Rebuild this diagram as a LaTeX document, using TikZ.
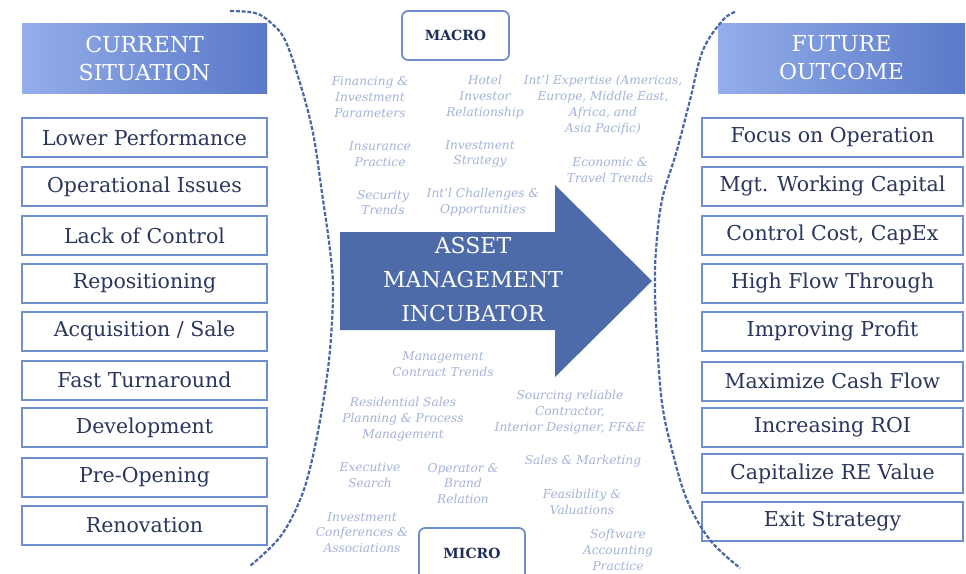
\documentclass[tikz,border=0pt]{standalone}
\usepackage{fontspec}
\setmainfont{DejaVu Serif}
\definecolor{boxline}{HTML}{6F8FCE}
\definecolor{boxtext}{HTML}{2A365E}
\definecolor{notec}{HTML}{A3B3DA}
\definecolor{hdrL}{HTML}{93AEEA}
\definecolor{hdrR}{HTML}{5A79C8}
\definecolor{arrowc}{HTML}{4D6BA8}
\definecolor{dashc}{HTML}{4A66A6}
\definecolor{navy}{HTML}{1F2D5A}
\tikzset{
  itembox/.style={draw=boxline, line width=2pt, minimum height=39pt, text=boxtext,
    font=\fontsize{20.5}{24}\selectfont, inner sep=0pt},
  leftbox/.style={itembox, minimum width=245pt},
  rightbox/.style={itembox, minimum width=261pt},
  hdr/.style={left color=hdrL, right color=hdrR, minimum height=70pt, text=white,
    align=center, font=\fontsize{22}{28}\selectfont, inner sep=0pt},
  note/.style={text=notec, align=center, font=\fontsize{12.2}{15.8}\selectfont\itshape, inner sep=0pt},
  scalebox/.style={draw=boxline, line width=1.8pt, rounded corners=6pt, fill=white},
  scaletext/.style={text=navy, font=\fontsize{14}{16}\selectfont\bfseries},
  curve/.style={draw=dashc, line width=2.2pt, dash pattern=on 4pt off 1.8pt}
}
\begin{document}
\begin{tikzpicture}[x=1pt,y=-1pt]
\useasboundingbox (0,0) rectangle (966,573);
\fill[white] (0,0) rectangle (966,573);

% headers
\node[hdr, minimum width=245pt] (curhdr) at (144.5,58) {CURRENT\\SITUATION};
\node[hdr, minimum width=247pt] (futhdr) at (841.5,58) {FUTURE\\OUTCOME};

% left boxes
\node[leftbox] (l1) at (144.5,137.5) {Lower Performance};
\node[leftbox] (l2) at (144.5,186.5) {Operational Issues};
\node[leftbox] (l3) at (144.5,235.5) {Lack of Control};
\node[leftbox] (l4) at (144.5,283) {Repositioning};
\node[leftbox] (l5) at (144.5,331) {Acquisition / Sale};
\node[leftbox] (l6) at (144.5,380) {Fast Turnaround};
\node[leftbox] (l7) at (144.5,427.5) {Development};
\node[leftbox] (l8) at (144.5,477) {Pre-Opening};
\node[leftbox] (l9) at (144.5,525.5) {Renovation};

% right boxes
\node[rightbox] (r1) at (832.5,137) {Focus on Operation};
\node[rightbox] (r2) at (832.5,186) {Mgt. Working Capital};
\node[rightbox] (r3) at (832.5,235) {Control Cost, CapEx};
\node[rightbox] (r4) at (832.5,283) {High Flow Through};
\node[rightbox] (r5) at (832.5,331) {Improving Profit};
\node[rightbox] (r6) at (832.5,381) {Maximize Cash Flow};
\node[rightbox] (r7) at (832.5,427) {Increasing ROI};
\node[rightbox] (r8) at (832.5,473.5) {Capitalize RE Value};
\node[rightbox] (r9) at (832.5,521) {Exit Strategy};

% dashed curves
\draw[curve] plot[smooth, tension=0.6] coordinates {(230,11) (255,13) (270,22) (285,40) (300,83) (313,133) (322,193) (330,250) (333,290) (330,350) (323,403) (312,460) (300,500) (280,537) (250,566)};
\draw[curve] plot[smooth, tension=0.6] coordinates {(735,12) (723,20) (703,50) (690,100) (677,150) (662,200) (656,250) (655,290) (657,340) (662,403) (672,450) (687,500) (710,540) (740,568)};

% macro / micro
\node[scalebox, scaletext, minimum width=107pt, minimum height=49pt] (macro) at (455.5,35.5) {MACRO};
\begin{scope}
\clip (0,0) rectangle (966,573);
\draw[scalebox] (419,590) -- (419,528) -- (525,528) -- (525,590);
\end{scope}
\node[scaletext] (micro) at (472,553) {MICRO};

% arrow
\fill[arrowc] (340,232) -- (555,232) -- (555,185) -- (652,281) -- (555,377) -- (555,330) -- (340,330) -- cycle;
\node[text=white, align=center, font=\fontsize{22}{34}\selectfont] (amtxt) at (473,279) {ASSET\\MANAGEMENT\\INCUBATOR};

% notes top
\node[note] (n1) at (370,97) {Financing \&\\Investment\\Parameters};
\node[note] (n2) at (485,97) {Hotel\\Investor\\Relationship};
\node[note] (n3) at (603,105) {Int’l Expertise (Americas,\\Europe, Middle East,\\Africa, and\\Asia Pacific)};
\node[note] (n4) at (380,154) {Insurance\\Practice};
\node[note] (n5) at (480,154) {Investment\\Strategy};
\node[note] (n6) at (610,170) {Economic \&\\Travel Trends};
\node[note] (n7) at (383,202.5) {Security\\Trends};
\node[note] (n8) at (483,202.5) {Int’l Challenges \&\\Opportunities};

% notes bottom
\node[note] (n9) at (443,364) {Management\\Contract Trends};
\node[note] (n10) at (403,419) {Residential Sales\\Planning \& Process\\Management};
\node[note] (n11) at (570,412.5) {Sourcing reliable\\Contractor,\\Interior Designer, FF\&E};
\node[note] (n12) at (583,461) {Sales \& Marketing};
\node[note] (n13) at (370,475) {Executive\\Search};
\node[note] (n14) at (463,483.5) {Operator \&\\Brand\\Relation};
\node[note] (n15) at (582,502) {Feasibility \&\\Valuations};
\node[note] (n16) at (362,532.5) {Investment\\Conferences \&\\Associations};
\node[note] (n17) at (618,550) {Software\\Accounting\\Practice};
\end{tikzpicture}
\end{document}
